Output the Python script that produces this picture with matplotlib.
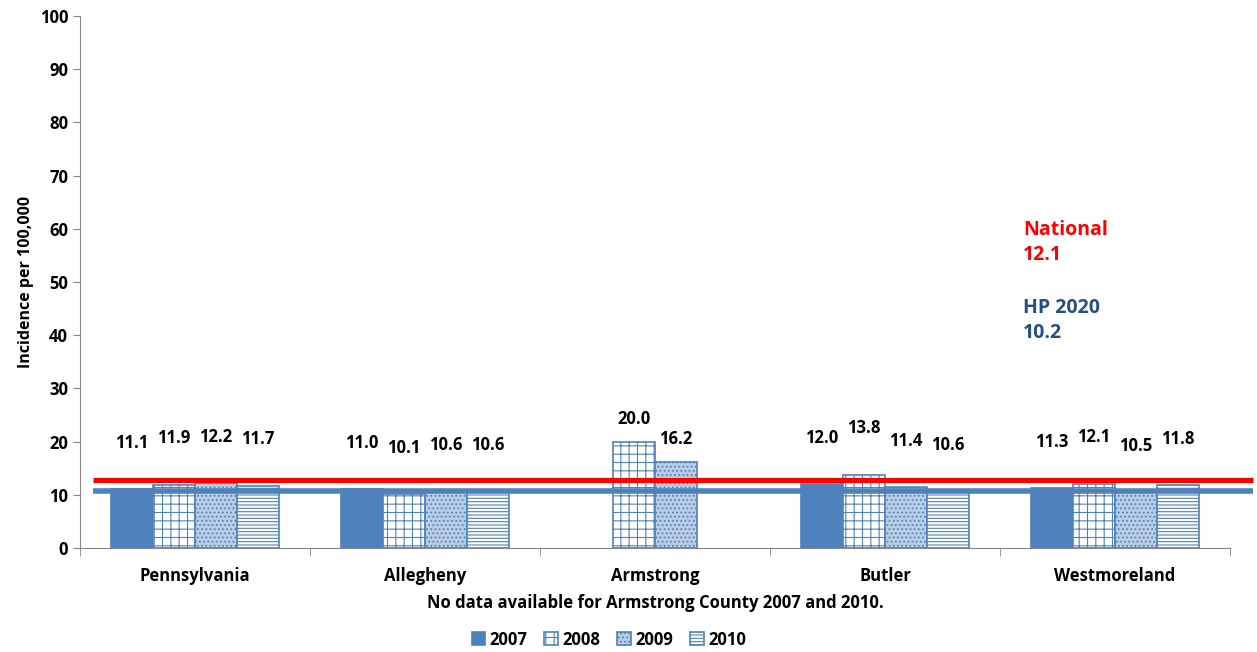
import numpy as np
import matplotlib.pyplot as plt
import matplotlib.transforms as mtransforms

plt.rcParams['font.family'] = ['Open Sans', 'DejaVu Sans']
plt.rcParams['hatch.linewidth'] = 0.8

regions = ["Pennsylvania", "Allegheny", "Armstrong", "Butler", "Westmoreland"]
years = ["2007", "2008", "2009", "2010"]
v2007 = [11.1, 11.0, np.nan, 12.0, 11.3]
v2008 = [11.9, 10.1, 20.0, 13.8, 12.1]
v2009 = [12.2, 10.6, 16.2, 11.4, 10.5]
v2010 = [11.7, 10.6, np.nan, 10.6, 11.8]
national = 12.1
hp2020 = 10.2
note = "No data available for Armstrong County 2007 and 2010."

blue = "#4F81BD"
styles = [
    dict(facecolor=blue, edgecolor=blue, hatch=None),
    dict(facecolor="white", edgecolor=blue, hatch="++"),
    dict(facecolor="#B9CDE5", edgecolor=blue, hatch="...."),
    dict(facecolor="white", edgecolor=blue, hatch="-----"),
]

fig = plt.figure(figsize=(12.57, 6.52), dpi=100)
ax = fig.add_axes([0.0636, 0.1595, 0.915, 0.816])

x = np.arange(len(regions))
w = 0.183
series = [v2007, v2008, v2009, v2010]
for i, (vals, st) in enumerate(zip(series, styles)):
    pos = x + (i - 1.5) * w
    ax.bar(pos, vals, width=w, linewidth=1.2, label=years[i], zorder=2, **st)
    for px, v in zip(pos, vals):
        if np.isnan(v):
            continue
        off = 4.3 if v > 15 else 8.7
        ax.text(px, v + off, f"{v:.1f}", ha="center", va="center",
                fontsize=12, fontweight="bold", color="black", zorder=5)

# reference lines drawn slightly past the plot
trans = mtransforms.blended_transform_factory(ax.transAxes, ax.transData)
ax.plot([0.011, 1.02], [12.7, 12.7], transform=trans, color="#FF0000",
        linewidth=3.7, clip_on=False, zorder=4, solid_capstyle="butt")
ax.plot([0.011, 1.02], [10.8, 10.8], transform=trans, color=blue,
        linewidth=4.0, clip_on=False, zorder=3, solid_capstyle="butt")

ax.text(0.82, 0.574, f"National\n{national}", transform=ax.transAxes,
        color="#FF0000", fontsize=14, fontweight="bold", va="center",
        linespacing=1.35)
ax.text(0.82, 0.428, f"HP 2020\n{hp2020}", transform=ax.transAxes,
        color="#254E83", fontsize=14, fontweight="bold", va="center",
        linespacing=1.35)

ax.set_xlim(-0.5, len(regions) - 0.5)
ax.set_ylim(0, 100)
ax.set_yticks(range(0, 101, 10))
ax.set_xticks(x)
ax.set_xticklabels(regions, fontsize=12, fontweight="bold")
ax.set_xticks(np.arange(-0.5, len(regions), 1), minor=True)
ax.tick_params(axis="x", which="major", length=0, pad=14)
ax.tick_params(axis="x", which="minor", length=6, color="#868686")
ax.tick_params(axis="y", length=5, color="#868686", labelsize=12)
for lbl in ax.get_yticklabels():
    lbl.set_fontweight("bold")
ax.set_ylabel("Incidence per 100,000", fontsize=11.5, fontweight="bold")
ax.set_xlabel(note, fontsize=12, fontweight="bold", labelpad=6)

for s in ["top", "right"]:
    ax.spines[s].set_visible(False)
for s in ["left", "bottom"]:
    ax.spines[s].set_color("#868686")

ax.legend(loc="center", bbox_to_anchor=(0.46, -0.172), ncol=4,
          frameon=False, prop={"weight": "bold", "size": 12},
          handlelength=0.8, handleheight=0.8, handletextpad=0.3,
          columnspacing=1.0, borderpad=0.1)

fig.savefig("out.png", dpi=100)
